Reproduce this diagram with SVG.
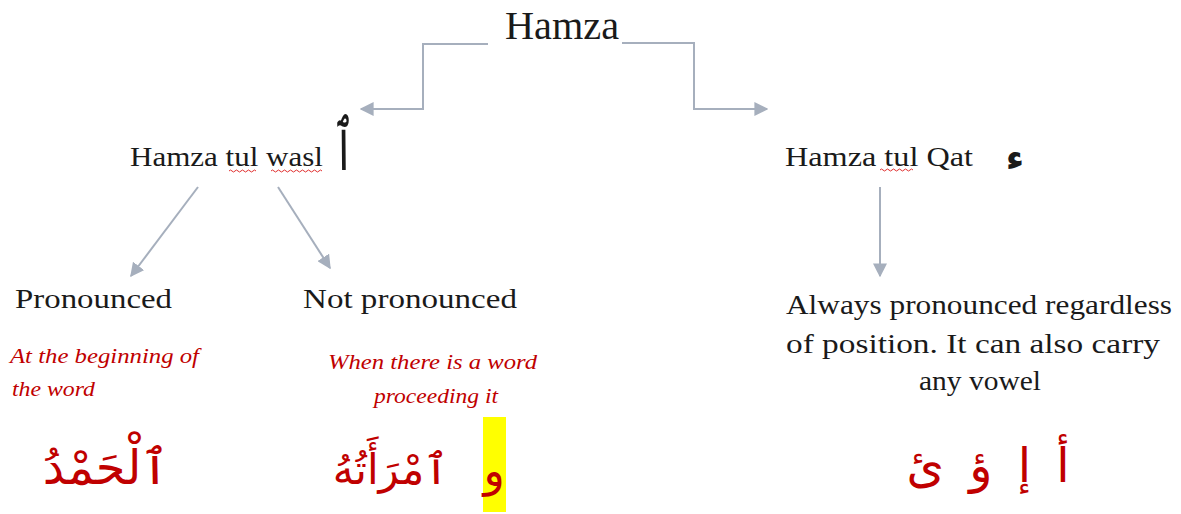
<svg xmlns="http://www.w3.org/2000/svg" width="1181" height="514" viewBox="0 0 1181 514">
<style>
.t{font-family:"Liberation Serif","DejaVu Serif",serif;fill:#1a1a1a}
.r{font-family:"Liberation Serif","DejaVu Serif",serif;font-style:italic;fill:#c00000;font-size:20px}
.ar{font-family:"DejaVu Sans","Noto Sans",sans-serif;fill:#c00000}
.ak{font-family:"DejaVu Sans","Noto Sans",sans-serif;fill:#1a1a1a}
.c{fill:none;stroke:#a6afbd;stroke-width:2}
.sq{fill:none;stroke:#e03030;stroke-width:1}
</style>
<defs>
<marker id="ah" viewBox="0 0 10 10" refX="9" refY="5" markerWidth="14" markerHeight="14" markerUnits="userSpaceOnUse" orient="auto">
<path d="M0,0 L10,5 L0,10 z" fill="#a6afbd"/>
</marker>
</defs>
<rect width="1181" height="514" fill="#ffffff"/>
<g id="connectors">
<path class="c" d="M488,44 H423 V109 H361" marker-end="url(#ah)"/>
<path class="c" d="M622,43 H694 V109 H767" marker-end="url(#ah)"/>
<path class="c" d="M198,187 L131,276" marker-end="url(#ah)"/>
<path class="c" d="M278,187 L330,268" marker-end="url(#ah)"/>
<path class="c" d="M880,187 V276" marker-end="url(#ah)"/>
</g>
<g id="hamza">
<text class="t" x="562" y="39" font-size="40" text-anchor="middle" textLength="114" lengthAdjust="spacingAndGlyphs">Hamza</text>
</g>
<g id="wasl">
<text class="t" x="130" y="166" font-size="27" textLength="193" lengthAdjust="spacingAndGlyphs">Hamza tul wasl</text>
<path class="sq" d="M229,171 q1.5,-2 3,0 t3,0 t3,0 t3,0 t3,0 t3,0 t3,0 t3,0 t3,0"/>
<path class="sq" d="M271,171 q1.5,-2 3,0 t3,0 t3,0 t3,0 t3,0 t3,0 t3,0 t3,0 t3,0 t3,0 t3,0 t3,0 t3,0 t3,0 t3,0 t3,0 t3,0"/>
<text class="ak" font-size="46" text-anchor="middle" transform="translate(344,170) scale(0.8,1.5)">ٱ</text>
</g>
<g id="qat">
<text class="t" x="785" y="166" font-size="27" textLength="188" lengthAdjust="spacingAndGlyphs">Hamza tul Qat</text>
<path class="sq" d="M880,170 q1.5,-2 3,0 t3,0 t3,0 t3,0 t3,0 t3,0 t3,0 t3,0 t3,0 t3,0 t3,0"/>
<text class="ak" x="1015" y="170" font-size="36" text-anchor="middle" font-weight="bold">ء</text>
</g>
<g id="pronounced">
<text class="t" x="15" y="308" font-size="27" textLength="157" lengthAdjust="spacingAndGlyphs">Pronounced</text>
<text class="r" x="10" y="363" textLength="189" lengthAdjust="spacingAndGlyphs">At the beginning of</text>
<text class="r" x="12" y="396" textLength="83" lengthAdjust="spacingAndGlyphs">the word</text>
<text class="ar" x="106" y="484" font-size="48" text-anchor="middle">ٱلْحَمْدُ</text>
</g>
<g id="not-pronounced">
<text class="t" x="303" y="308" font-size="27" textLength="214" lengthAdjust="spacingAndGlyphs">Not pronounced</text>
<text class="r" x="328" y="369" textLength="209" lengthAdjust="spacingAndGlyphs">When there is a word</text>
<text class="r" x="436" y="403" text-anchor="middle" textLength="124" lengthAdjust="spacingAndGlyphs">proceeding it</text>
<rect x="483" y="417" width="23" height="95" fill="#ffff00"/>
<text class="ar" x="494" y="486" font-size="44" text-anchor="middle">و</text>
<text class="ar" x="391" y="484" font-size="42" text-anchor="middle">ٱمْرَأَتُهُ</text>
</g>
<g id="always">
<text class="t" x="979" y="314" font-size="27" text-anchor="middle" textLength="386" lengthAdjust="spacingAndGlyphs">Always pronounced regardless</text>
<text class="t" x="973" y="353" font-size="27" text-anchor="middle" textLength="374" lengthAdjust="spacingAndGlyphs">of position. It can also carry</text>
<text class="t" x="980" y="390" font-size="27" text-anchor="middle" textLength="122" lengthAdjust="spacingAndGlyphs">any vowel</text>
<text class="ar" x="988" y="482" font-size="48" text-anchor="middle" direction="rtl" word-spacing="10">أ إ ؤ ئ</text>
</g>
</svg>
